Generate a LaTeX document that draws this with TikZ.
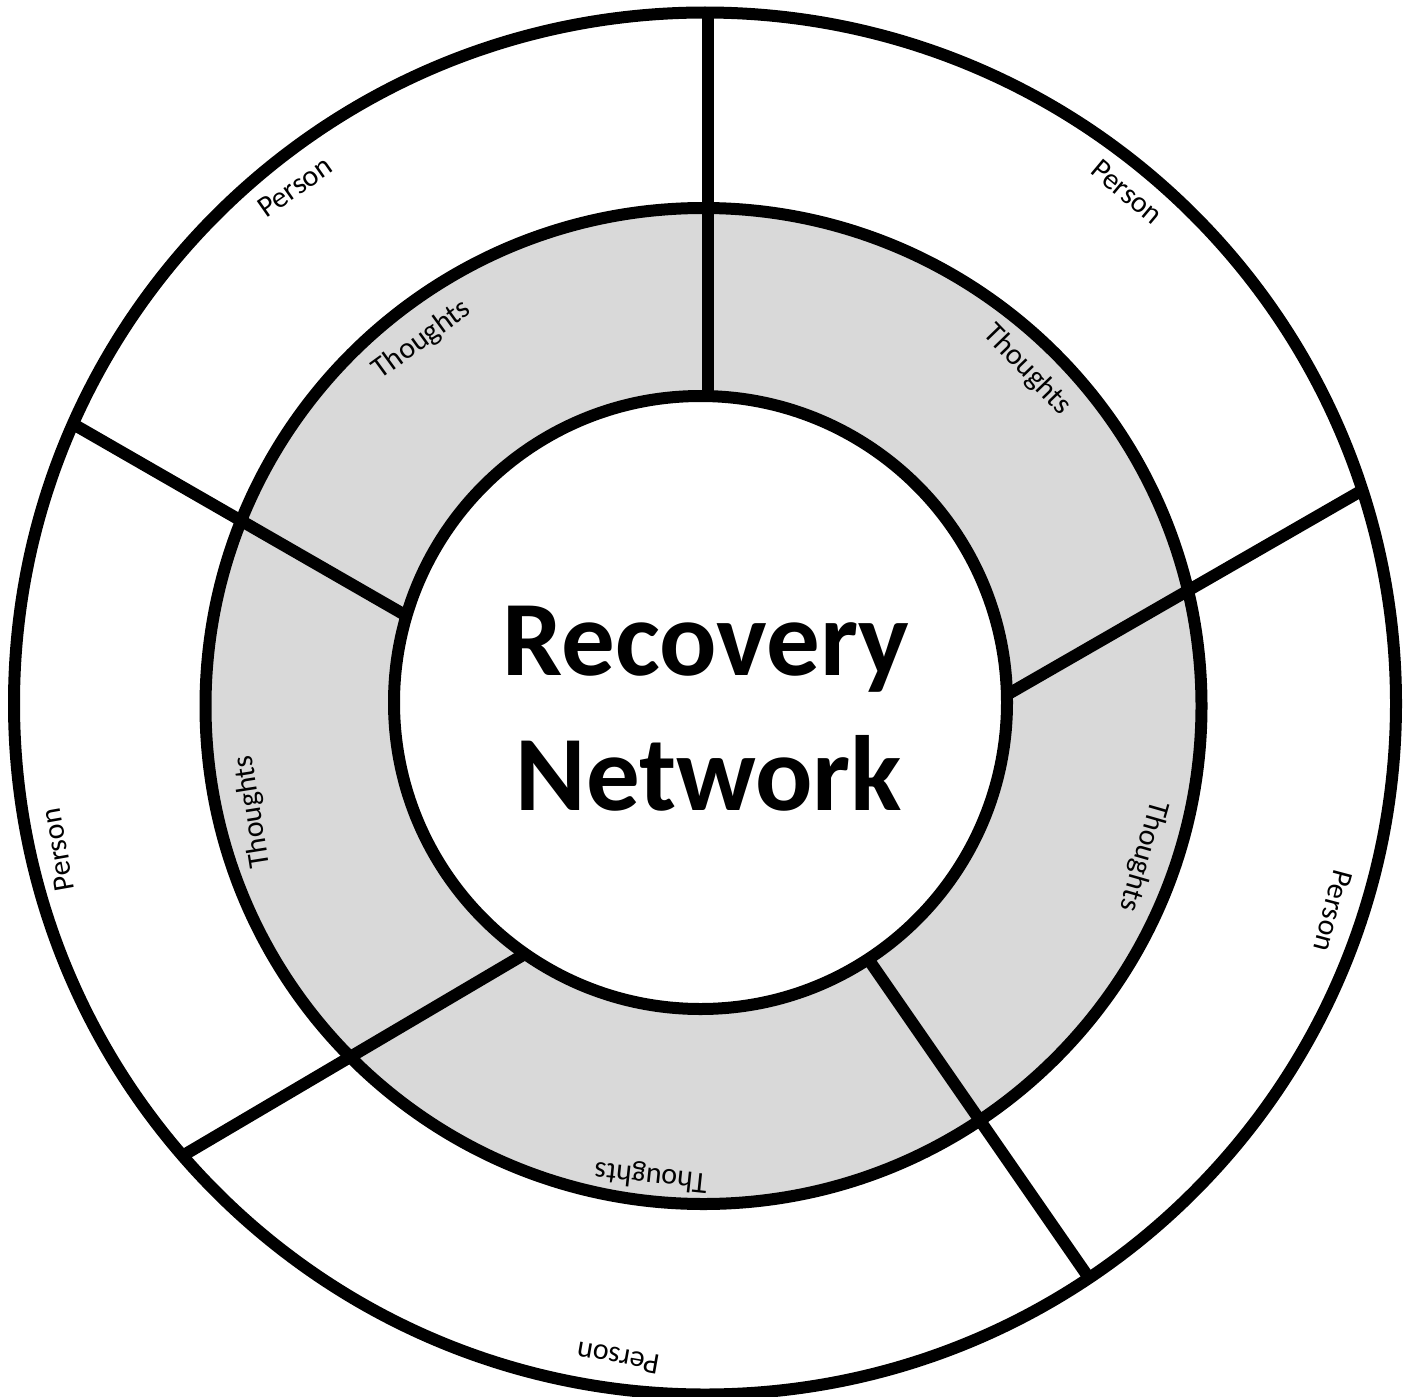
\documentclass[tikz,border=0pt]{standalone}
\usepackage{fontspec}
\setmainfont{Carlito}
\definecolor{ringgray}{HTML}{D9D9D9}
\begin{document}
\begin{tikzpicture}[x=1pt,y=-1pt,
  ring/.style={circle, draw=black, line width=12pt, inner sep=0pt},
  divider/.style={draw=black, line width=12pt},
  lbl/.style={font=\fontsize{30}{36}\selectfont, inner sep=0pt},
  title/.style={font=\fontsize{107}{134}\selectfont\bfseries, inner sep=0pt, anchor=base}]
\useasboundingbox (0,0) rectangle (1411,1397);
\node[ring, fill=white, minimum size=1382pt] (outer) at (705,703.5) {};
\node[ring, fill=ringgray, minimum size=996pt] (middle) at (703.5,706) {};
\node[ring, fill=white, minimum size=613pt] (inner) at (700.5,702.5) {};
% divider end points
\coordinate (t1) at (708,12.5);   \coordinate (t2) at (708,396);
\coordinate (r1) at (1361,491);   \coordinate (r2) at (1010,693);
\coordinate (ul1) at (73,424);    \coordinate (ul2) at (405,615);
\coordinate (ll1) at (183,1155.5); \coordinate (ll2) at (524,954.5);
\coordinate (lr1) at (1089,1278); \coordinate (lr2) at (868.5,959.5);
\draw[divider] (t1) -- (t2);
\draw[divider] (r1) -- (r2);
\draw[divider] (ul1) -- (ul2);
\draw[divider] (ll1) -- (ll2);
\draw[divider] (lr1) -- (lr2);
% labels
\node[lbl, rotate=35] (p1) at (295,187) {Person};
\node[lbl, rotate=36] (th1) at (422,340) {Thoughts};
\node[lbl, rotate=-40] (p2) at (1127,192) {Person};
\node[lbl, rotate=-46] (th2) at (1027,370) {Thoughts};
\node[lbl, rotate=99] (th3) at (253,812) {Thoughts};
\node[lbl, rotate=100] (p3) at (58,850) {Person};
\node[lbl, rotate=-106] (th4) at (1143,856) {Thoughts};
\node[lbl, rotate=-105] (p4) at (1333,911) {Person};
\node[lbl, rotate=174] (th5) at (651,1176) {Thoughts};
\node[lbl, rotate=170] (p5) at (618,1358) {Person};
% centre title
\node[title] (rec) at (706,675) {Recovery};
\node[title] (net) at (709,810) {Network};
\end{tikzpicture}
\end{document}
